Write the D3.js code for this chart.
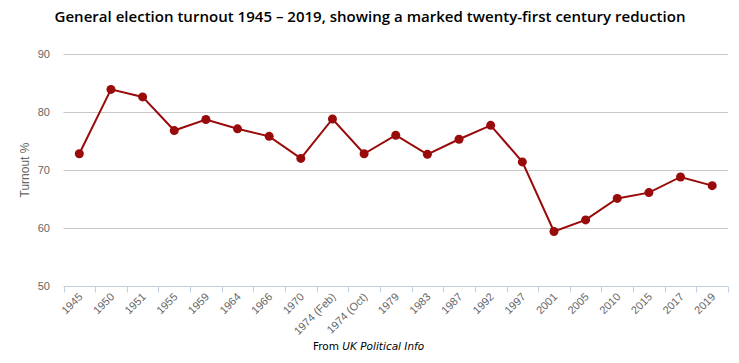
<!DOCTYPE html>
<html><head><meta charset="utf-8">
<script src="https://cdn.jsdelivr.net/npm/d3@7"></script>
<style>body{margin:0;background:#fff}svg{display:block}</style>
</head><body>
<svg id="c" width="739" height="363"></svg>
<script>
const categories = ["1945","1950","1951","1955","1959","1964","1966","1970","1974 (Feb)","1974 (Oct)","1979","1983","1987","1992","1997","2001","2005","2010","2015","2017","2019"];
const turnout = [72.8,83.9,82.6,76.8,78.7,77.1,75.8,72.0,78.8,72.8,76.0,72.7,75.3,77.7,71.4,59.4,61.4,65.1,66.1,68.8,67.3];
const yTicks = [50,60,70,80,90];
const titleText = "General election turnout 1945 \u2013 2019, showing a marked twenty-first century reduction";
const yTitle = "Turnout %";

const svg = d3.select("#c");
const x = d3.scaleBand().domain(categories).range([63.5, 728]);
const y = d3.scaleLinear().domain([50, 90]).range([286, 54]);

// gridlines
svg.append("g").selectAll("line").data(yTicks.filter(d => d !== 50)).join("line")
  .attr("x1", 63.5).attr("x2", 728)
  .attr("y1", d => Math.round(y(d)) + 0.5).attr("y2", d => Math.round(y(d)) + 0.5)
  .attr("stroke", "#c8c8c8").attr("stroke-width", 1);

// y labels
svg.append("g").selectAll("text").data(yTicks).join("text")
  .attr("x", 50).attr("y", d => y(d) + 4)
  .attr("text-anchor", "end").attr("font-family", "Liberation Sans, Arial, sans-serif")
  .attr("font-size", 11).attr("fill", "#666").text(d => d);

// y title
svg.append("text").attr("transform", "translate(29,170) rotate(-90)")
  .attr("text-anchor", "middle").attr("font-family", "Liberation Sans, Arial, sans-serif")
  .attr("font-size", 12).attr("fill", "#666").text(yTitle);

// x axis
const xAxis = svg.append("g").attr("transform", "translate(0,286.5)");
xAxis.append("line").attr("x1", 63.5).attr("x2", 728).attr("stroke", "#c0d0e0");
const bounds = categories.map(c => x(c)).concat([x.range()[1]]);
xAxis.selectAll("line.t").data(bounds).join("line").attr("class", "t")
  .attr("x1", d => Math.round(d) + 0.5).attr("x2", d => Math.round(d) + 0.5)
  .attr("y1", 0).attr("y2", 6).attr("stroke", "#c0d0e0");
xAxis.selectAll("text").data(categories).join("text")
  .attr("transform", d => `translate(${x(d) + x.bandwidth()/2 + 4},${11}) rotate(-45)`)
  .attr("text-anchor", "end").attr("font-family", "Liberation Sans, Arial, sans-serif")
  .attr("font-size", 11).attr("fill", "#666").text(d => d);

// line
const cx = (d, i) => x(categories[i]) + x.bandwidth()/2;
const line = d3.line().x((d, i) => cx(d, i)).y(d => y(d));
svg.append("path").datum(turnout).attr("d", line)
  .attr("fill", "none").attr("stroke", "#990a0a").attr("stroke-width", 2);
svg.append("g").selectAll("circle").data(turnout).join("circle")
  .attr("cx", (d, i) => cx(d, i)).attr("cy", d => y(d)).attr("r", 4.5)
  .attr("fill", "#990a0a");

// title
svg.append("text").attr("x", 370).attr("y", 22).attr("text-anchor", "middle")
  .attr("font-family", "Open Sans, sans-serif").attr("font-weight", 600)
  .attr("font-size", 14.5).attr("fill", "#000")
  .attr("textLength", 631).attr("lengthAdjust", "spacingAndGlyphs").text(titleText);

// source
const src = svg.append("text").attr("x", 313).attr("y", 350)
  .attr("font-family", "DejaVu Sans, sans-serif").attr("font-size", 10.5).attr("fill", "#000");
src.append("tspan").text("From ");
src.append("tspan").attr("font-style", "italic").text("UK Political Info");
</script>
</body></html>
